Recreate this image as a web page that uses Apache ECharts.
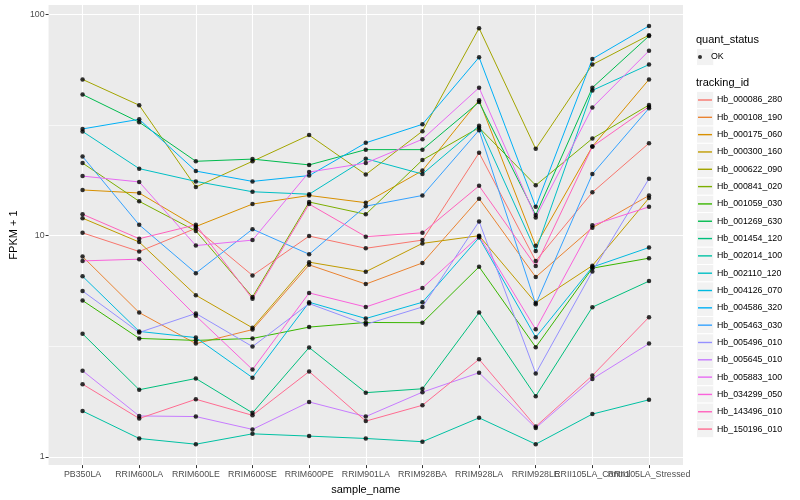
<!DOCTYPE html>
<html>
<head>
<meta charset="utf-8">
<script src="https://cdn.jsdelivr.net/npm/echarts@6/dist/echarts.min.js"></script>
<style>html,body{margin:0;padding:0;background:#fff}#c{width:800px;height:500px}</style>
</head>
<body>
<div id="c"></div>
<script>
// ---- data ----
const categories = ['PB350LA','RRIM600LA','RRIM600LE','RRIM600SE','RRIM600PE','RRIM901LA','RRIM928BA','RRIM928LA','RRIM928LE','RRII105LA_Control','RRII105LA_Stressed'];
const trackingIds = ['Hb_000086_280','Hb_000108_190','Hb_000175_060','Hb_000300_160','Hb_000622_090','Hb_000841_020','Hb_001059_030','Hb_001269_630','Hb_001454_120','Hb_002014_100','Hb_002110_120','Hb_004126_070','Hb_004586_320','Hb_005463_030','Hb_005496_010','Hb_005645_010','Hb_005883_100','Hb_034299_050','Hb_143496_010','Hb_150196_010'];
const yTickValues = [1, 10, 100];
const yMinorBreaks = [3.1623, 31.623];

const Hb_000086_280 = [10.3, 8.48, 10.8, 6.61, 9.96, 8.77, 9.55, 23.7, 7.69, 15.7, 26.2];
const Hb_000108_190 = [8.05, 4.49, 3.25, 3.76, 7.38, 6.04, 7.53, 14.7, 6.50, 10.86, 15.2];
const Hb_000175_060 = [16.1, 15.6, 11.0, 13.9, 15.2, 14.1, 19.7, 41.0, 9.0, 25.3, 50.9];
const Hb_000300_160 = [12.0, 9.36, 5.38, 3.83, 7.59, 6.87, 9.23, 10.0, 4.97, 7.32, 14.8];
const Hb_000622_090 = [50.9, 38.9, 16.6, 21.7, 28.5, 18.9, 29.7, 86.8, 24.7, 59.4, 80.7];
const Hb_000841_020 = [21.3, 14.3, 10.5, 5.28, 14.2, 12.5, 22.0, 30.8, 16.9, 27.5, 39.0];
const Hb_001059_030 = [5.09, 3.43, 3.36, 3.43, 3.86, 4.05, 4.04, 7.23, 3.13, 7.13, 7.91];
const Hb_001269_630 = [43.5, 32.6, 21.7, 22.2, 20.9, 24.5, 24.5, 40.2, 12.4, 46.7, 80.0];
const Hb_001454_120 = [3.60, 2.01, 2.26, 1.58, 3.12, 1.95, 2.03, 4.49, 1.88, 4.75, 6.23];
const Hb_002014_100 = [1.61, 1.21, 1.14, 1.27, 1.24, 1.21, 1.17, 1.50, 1.14, 1.56, 1.81];
const Hb_002110_120 = [29.6, 20.1, 17.6, 15.8, 15.4, 22.3, 19.0, 31.4, 8.53, 45.4, 59.4];
const Hb_004126_070 = [6.55, 3.69, 3.46, 2.28, 5.0, 4.22, 5.0, 9.8, 3.47, 7.21, 8.84];
const Hb_004586_320 = [30.4, 33.6, 19.6, 17.6, 18.7, 26.3, 31.9, 64.1, 13.5, 63.0, 88.9];
const Hb_005463_030 = [22.8, 11.2, 6.77, 10.7, 8.24, 13.6, 15.2, 30.0, 4.90, 19.0, 37.7];
const Hb_005496_010 = [5.62, 3.65, 4.45, 3.15, 4.93, 3.97, 4.76, 11.6, 2.38, 6.89, 18.1];
const Hb_005645_010 = [2.45, 1.53, 1.52, 1.33, 1.77, 1.52, 1.96, 2.40, 1.35, 2.25, 3.25];
const Hb_005883_100 = [18.6, 17.5, 9.02, 9.55, 19.4, 21.3, 27.3, 46.7, 12.1, 38.0, 68.6];
const Hb_034299_050 = [7.69, 7.83, 4.34, 2.48, 5.51, 4.76, 5.80, 9.95, 3.77, 11.16, 13.5];
const Hb_143496_010 = [12.5, 9.69, 11.2, 5.18, 13.9, 9.9, 10.3, 16.8, 7.30, 25.3, 38.3];
const Hb_150196_010 = [2.13, 1.49, 1.82, 1.54, 2.43, 1.45, 1.71, 2.76, 1.37, 2.33, 4.28];

const seriesValues = [Hb_000086_280, Hb_000108_190, Hb_000175_060, Hb_000300_160, Hb_000622_090, Hb_000841_020, Hb_001059_030, Hb_001269_630, Hb_001454_120, Hb_002014_100, Hb_002110_120, Hb_004126_070, Hb_004586_320, Hb_005463_030, Hb_005496_010, Hb_005645_010, Hb_005883_100, Hb_034299_050, Hb_143496_010, Hb_150196_010];

// ---- styles ----
const colors = ['#F8766D','#EA8331','#D89000','#C09B00','#A3A500','#7CAE00','#39B600','#00BB4E','#00BF7D','#00C1A3','#00BFC4','#00BAE0','#00B0F6','#35A2FF','#9590FF','#C77CFF','#E76BF3','#FA62DB','#FF62BC','#FF6C91'];
const FONT = "'Liberation Sans', Arial, Helvetica, sans-serif";
const xTickValues = categories.map((c, i) => i);
// labels split over two stacked axes so that ECharts does not hide the overlapping last pair
const xLabelValuesA = xTickValues.filter(i => i % 2 === 0);
const xLabelValuesB = xTickValues.filter(i => i % 2 === 1);

const lineSeries = trackingIds.map((id, k) => ({
  name: id,
  type: 'line',
  data: seriesValues[k].map((v, i) => [i, v]),
  showSymbol: false,
  symbol: 'none',
  lineStyle: { width: 1, color: colors[k] },
  itemStyle: { color: colors[k] },
  emphasis: { disabled: true },
  silent: true,
  z: 2
}));
lineSeries[0].markLine = {
  silent: true,
  z: 1,
  symbol: ['none', 'none'],
  label: { show: false },
  emphasis: { disabled: true },
  lineStyle: { color: '#ffffff', width: 0.6, type: 'solid' },
  data: yMinorBreaks.map(v => ({ yAxis: v }))
};

const pointData = [];
seriesValues.forEach(vals => vals.forEach((v, i) => pointData.push([i, v])));
const okSeries = {
  name: 'OK',
  type: 'scatter',
  data: pointData,
  symbol: 'circle',
  symbolSize: 4.5,
  itemStyle: { color: '#000000' },
  emphasis: { disabled: true },
  silent: true,
  z: 3
};

// legend key backgrounds (decoration)
const keyX = 696.5, keySize = 17.32, okCenter = 57, firstCenter = 100;
const keyRects = [{ type: 'rect', shape: { x: keyX, y: okCenter - keySize / 2, width: keySize, height: keySize }, style: { fill: '#F2F2F2', stroke: '#ffffff', lineWidth: 1 }, z: -1 }];
trackingIds.forEach((id, i) => keyRects.push({
  type: 'rect',
  shape: { x: keyX, y: firstCenter + i * keySize - keySize / 2, width: keySize, height: keySize },
  style: { fill: '#F2F2F2', stroke: '#ffffff', lineWidth: 1 },
  z: -1
}));

const xLabelStyle = { formatter: v => categories[Math.round(v)], color: '#4D4D4D', fontSize: 8.8, margin: 5, fontFamily: FONT, hideOverlap: false, showMinLabel: true, showMaxLabel: true };

const chart = echarts.init(document.getElementById('c'), null, { renderer: 'canvas' });
chart.setOption({
  animation: false,
  backgroundColor: '#ffffff',
  textStyle: { fontFamily: FONT },
  title: [
    { text: 'quant_status', left: 696, top: 34, padding: 0, textStyle: { fontSize: 11, fontWeight: 'normal', color: '#000', fontFamily: FONT } },
    { text: 'tracking_id', left: 696, top: 77.5, padding: 0, textStyle: { fontSize: 11, fontWeight: 'normal', color: '#000', fontFamily: FONT } }
  ],
  legend: [
    {
      data: ['OK'], orient: 'vertical', left: 698, top: okCenter - 8.5, padding: 0, itemGap: 0,
      icon: 'circle', itemWidth: 14, itemHeight: 4, selectedMode: false,
      itemStyle: { borderWidth: 0 },
      textStyle: { fontSize: 8.8, color: '#000', lineHeight: 17, fontFamily: FONT, padding: [0, 0, 0, -1] }
    },
    {
      data: trackingIds, orient: 'vertical', left: 698, top: firstCenter - keySize / 2, padding: 0, itemGap: 0,
      icon: 'rect', itemWidth: 14, itemHeight: 1.4, selectedMode: false,
      itemStyle: { borderWidth: 0 },
      textStyle: { fontSize: 8.8, color: '#000', lineHeight: keySize, fontFamily: FONT }
    }
  ],
  graphic: keyRects,
  grid: { left: 40, right: 117, top: 5, bottom: 32, show: true, backgroundColor: '#EBEBEB', borderWidth: 0, containLabel: false },
  xAxis: [
    {
      type: 'value', min: -0.6, max: 10.6, position: 'bottom', offset: 0,
      axisLine: { show: false, onZero: false },
      axisTick: { show: true, length: 3, lineStyle: { color: '#333333', width: 1 }, customValues: xTickValues },
      axisLabel: Object.assign({ customValues: xLabelValuesA }, xLabelStyle),
      splitLine: { show: true, lineStyle: { color: '#ffffff', width: 1.1 } },
      name: 'sample_name', nameLocation: 'middle', nameGap: 13,
      nameTextStyle: { fontSize: 11, color: '#000', fontFamily: FONT }
    },
    {
      type: 'value', min: -0.6, max: 10.6, position: 'bottom', offset: 0,
      axisLine: { show: false, onZero: false },
      axisTick: { show: false, customValues: xLabelValuesB },
      axisLabel: Object.assign({ customValues: xLabelValuesB }, xLabelStyle),
      splitLine: { show: false }
    }
  ],
  yAxis: {
    type: 'log', logBase: 10, min: 0.917, max: 110.5,
    axisLine: { show: false, onZero: false },
    axisTick: { show: true, length: 3, lineStyle: { color: '#333333', width: 1 }, customValues: yTickValues },
    axisLabel: { customValues: yTickValues, color: '#4D4D4D', fontSize: 8.8, margin: 4, fontFamily: FONT, showMinLabel: true, showMaxLabel: true },
    splitLine: { show: true, lineStyle: { color: '#ffffff', width: 1.1 } },
    name: 'FPKM + 1', nameLocation: 'middle', nameGap: 27, nameRotate: 90,
    nameTextStyle: { fontSize: 11, color: '#000', fontFamily: FONT }
  },
  series: lineSeries.concat([okSeries])
});
</script>
</body>
</html>
